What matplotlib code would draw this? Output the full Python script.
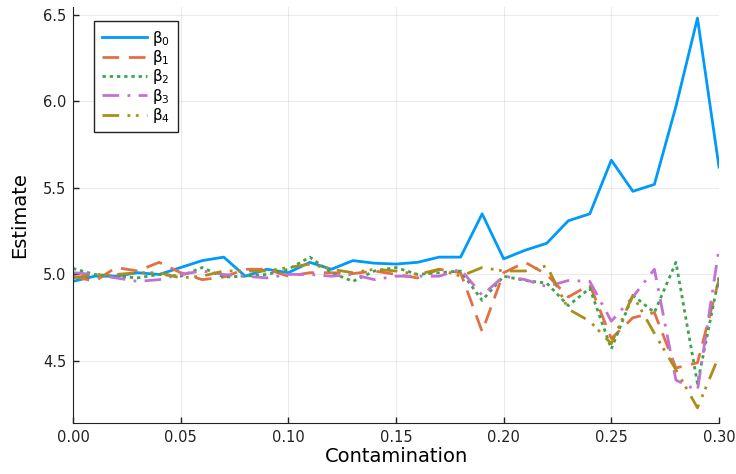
import numpy as np
import matplotlib
matplotlib.use('Agg')
import matplotlib.pyplot as plt

# contamination levels
contamination = [i / 100 for i in range(31)]

beta0 = [4.96, 4.99, 4.99, 5.01, 5.00, 5.04, 5.08, 5.10, 4.99, 5.03, 5.01, 5.07, 5.03, 5.08, 5.065, 5.06,
         5.07, 5.10, 5.10, 5.35, 5.09, 5.14, 5.18, 5.31, 5.35, 5.66, 5.48, 5.52, 5.97, 6.48, 5.62]
beta1 = [4.99, 4.96, 5.04, 5.02, 5.07, 5.01, 4.97, 4.985, 5.03, 5.03, 4.99, 5.01, 5.01, 5.005, 5.02, 5.00,
         4.98, 5.03, 5.01, 4.67, 5.01, 5.07, 5.00, 4.87, 4.94, 4.63, 4.75, 4.78, 4.46, 4.49, 4.97]
beta2 = [5.035, 5.00, 4.99, 4.98, 5.00, 4.99, 5.04, 4.985, 4.99, 5.00, 5.03, 5.10, 5.01, 4.96, 5.02, 5.04,
         5.00, 5.01, 5.02, 4.85, 4.99, 4.965, 4.95, 4.82, 4.92, 4.57, 4.88, 4.78, 5.07, 4.37, 4.985]
beta3 = [5.01, 5.00, 4.98, 4.96, 4.97, 5.00, 5.02, 5.00, 4.99, 4.98, 5.00, 5.00, 4.99, 5.00, 4.97, 4.99,
         4.99, 4.99, 5.03, 4.88, 4.99, 4.97, 4.93, 4.965, 4.96, 4.73, 4.87, 5.03, 4.39, 4.33, 5.15]
beta4 = [4.98, 5.00, 5.00, 5.01, 5.01, 4.98, 4.99, 5.02, 5.02, 5.02, 5.04, 5.06, 5.03, 5.01, 5.03, 5.02,
         5.00, 5.03, 4.99, 5.04, 5.02, 5.02, 5.05, 4.80, 4.73, 4.60, 4.88, 4.66, 4.45, 4.23, 4.53]

labels = ["β$_0$", "β$_1$", "β$_2$", "β$_3$", "β$_4$"]
colors = ["#009AFA", "#E36F47", "#3EA44E", "#C371D2", "#AC8D18"]
styles = ["-", (0, (6, 3.5)), (0, (1.2, 1.4)), (0, (6, 3, 1, 3)), (0, (6, 3, 1, 2, 1, 3))]

fig = plt.figure(figsize=(7.36, 4.74), dpi=100)
ax = fig.add_axes([0.0992, 0.1082, 0.8777, 0.8777])

for ys, lab, c, ls in zip([beta0, beta1, beta2, beta3, beta4], labels, colors, styles):
    ax.plot(contamination, ys, color=c, linestyle=ls, linewidth=2, label=lab)

ax.set_xlim(0, 0.30)
ax.set_ylim(4.144, 6.546)
ax.set_xticks([0.0, 0.05, 0.10, 0.15, 0.20, 0.25, 0.30])
ax.set_xticklabels(["0.00", "0.05", "0.10", "0.15", "0.20", "0.25", "0.30"])
ax.set_yticks([4.5, 5.0, 5.5, 6.0, 6.5])
ax.set_yticklabels(["4.5", "5.0", "5.5", "6.0", "6.5"])
ax.grid(True, color="#000000", alpha=0.08, linewidth=0.8)
ax.tick_params(direction="in", length=4, width=1, labelsize=10.5, colors="#222222", pad=5)
ax.spines["top"].set_visible(False)
ax.spines["right"].set_visible(False)
for s in ["left", "bottom"]:
    ax.spines[s].set_color("#222222")
ax.set_xlabel("Contamination", fontsize=14, labelpad=2)
ax.set_ylabel("Estimate", fontsize=14, labelpad=10)

leg = ax.legend(loc="upper left", bbox_to_anchor=(0.0325, 0.9656), borderaxespad=0, fontsize=11,
                fancybox=False, framealpha=1, edgecolor="#222222", handlelength=3.0,
                handletextpad=0.3, labelspacing=0.02, borderpad=0.5)
leg.get_frame().set_linewidth(1)

fig.savefig("out.png", dpi=100)
